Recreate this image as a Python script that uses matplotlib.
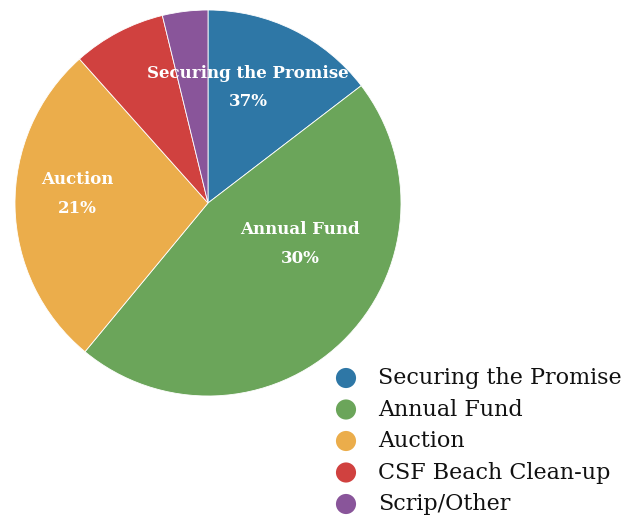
import matplotlib
matplotlib.use("Agg")
import matplotlib.pyplot as plt

categories = ["Securing the Promise", "Annual Fund", "Auction", "CSF Beach Clean-up", "Scrip/Other"]
values = [14.6, 46.4, 27.4, 7.8, 3.8]
slice_labels = ["37%", "30%", "21%", None, None]
colors = ["#2e77a6", "#6ba55a", "#ebad4b", "#d0413f", "#89559a"]

W, H = 639, 519
fig = plt.figure(figsize=(W / 100, H / 100), dpi=100)

cx, cy, r = 208, 203, 193
ax = fig.add_axes([(cx - r) / W, (H - cy - r) / H, 2 * r / W, 2 * r / H])
wedges, _ = ax.pie(values, colors=colors, startangle=90, counterclock=False,
                   radius=1, wedgeprops=dict(edgecolor="white", linewidth=0.6))
ax.set_xlim(-1, 1)
ax.set_ylim(-1, 1)
ax.set_aspect("equal")
ax.axis("off")

# label placement (layout, in pie-radius units)
label_pos = [(0.207, 0.60), (0.477, -0.212), (-0.679, 0.047), None, None]
font = ["DejaVu Serif"]
for cat, lab, pos in zip(categories, slice_labels, label_pos):
    if lab is None:
        continue
    ax.text(pos[0], pos[1], f"{cat}\n{lab}", ha="center", va="center",
            color="white", fontweight="bold", fontsize=12, family=font,
            linespacing=1.87)

# legend drawn in pixel space
lax = fig.add_axes([0, 0, 1, 1])
lax.set_xlim(0, W)
lax.set_ylim(H, 0)
lax.axis("off")
row_y0, row_dy = 378, 31.5
for i, (cat, col) in enumerate(zip(categories, colors)):
    y = row_y0 + i * row_dy
    lax.scatter([346], [y], s=210, color=col, edgecolors="none")
    lax.text(378, y, cat, ha="left", va="center", fontsize=16, family=font,
             color="#111111")

fig.savefig("out.png", dpi=100)
